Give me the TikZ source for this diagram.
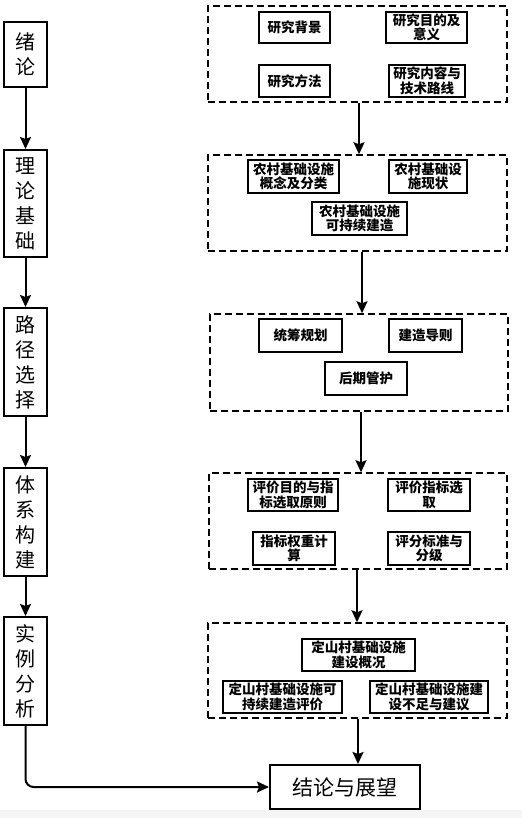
\documentclass[tikz,border=0pt]{standalone}
\usepackage{fontspec}
\newfontfamily\cjk{Noto Sans CJK SC}
\usetikzlibrary{arrows.meta,calc}
\begin{document}
\begin{tikzpicture}[x=1pt,y=-1pt,
  leftbox/.style={draw,line width=2pt,minimum width=43pt,inner sep=0pt,align=center,
    font=\cjk\fontsize{20}{25}\selectfont,text=black},
  inbox/.style={draw,line width=2pt,inner sep=0pt,align=center,
    font=\cjk\bfseries\fontsize{13.5}{14.5}\selectfont},
  grp/.style={draw,line width=1.5pt,dash pattern=on 7pt off 4pt,inner sep=0pt},
  arr/.style={line width=2pt,-{Stealth[length=12pt,width=11pt,inset=2pt]}}]
\useasboundingbox (0,0) rectangle (522,818);
\fill[gray!8] (0,810) rectangle (522,818);
% left column
\node[leftbox,minimum height=65pt] (l1) at (25.5,54.5) {绪\\论};
\node[leftbox,minimum height=107pt] (l2) at (25.5,203.5) {理\\论\\基\\础};
\node[leftbox,minimum height=108pt] (l3) at (25.5,362) {路\\径\\选\\择};
\node[leftbox,minimum height=108pt] (l4) at (25.5,522) {体\\系\\构\\建};
\node[leftbox,minimum height=108pt] (l5) at (25.5,671) {实\\例\\分\\析};
\node[draw,line width=2pt,minimum width=150pt,minimum height=44pt,inner sep=0pt,
  font=\cjk\fontsize{21}{25}\selectfont,text=black] (end) at (345,787) {结论与展望};
% groups
\node[grp,minimum width=299pt,minimum height=96pt] (g1) at (357.5,54) {};
\node[grp,minimum width=299pt,minimum height=96pt] (g2) at (357.5,203) {};
\node[grp,minimum width=298pt,minimum height=97pt] (g3) at (359,362.5) {};
\node[grp,minimum width=298pt,minimum height=96pt] (g4) at (358,521) {};
\node[grp,minimum width=299pt,minimum height=95pt] (g5) at (357.5,670.5) {};
% group 1
\node[inbox,minimum width=71pt,minimum height=31pt] (a1) at (294.5,27.5) {研究背景};
\node[inbox,minimum width=81pt,minimum height=31pt] (a2) at (426.5,27.5) {研究目的及\\意义};
\node[inbox,minimum width=71pt,minimum height=32pt] (a3) at (294.5,81) {研究方法};
\node[inbox,minimum width=76pt,minimum height=32pt] (a4) at (427,81) {研究内容与\\技术路线};
% group 2
\node[inbox,minimum width=91pt,minimum height=33pt] (b1) at (293.5,176.5) {农村基础设施\\概念及分类};
\node[inbox,minimum width=78pt,minimum height=33pt] (b2) at (428,176.5) {农村基础设\\施现状};
\node[inbox,minimum width=95pt,minimum height=33pt] (b3) at (359.5,218.5) {农村基础设施\\可持续建造};
% group 3
\node[inbox,minimum width=83pt,minimum height=33pt] (c1) at (300.5,335.5) {统筹规划};
\node[inbox,minimum width=73pt,minimum height=33pt] (c2) at (425.5,335.5) {建造导则};
\node[inbox,minimum width=82pt,minimum height=33pt] (c3) at (366,378.5) {后期管护};
% group 4
\node[inbox,minimum width=90pt,minimum height=32pt] (d1) at (293,495) {评价目的与指\\标选取原则};
\node[inbox,minimum width=82pt,minimum height=32pt] (d2) at (429,495) {评价指标选\\取};
\node[inbox,minimum width=82pt,minimum height=33pt] (d3) at (294,548.5) {指标权重计\\算};
\node[inbox,minimum width=82pt,minimum height=33pt] (d4) at (429,548.5) {评分标准与\\分级};
% group 5
\node[inbox,minimum width=113pt,minimum height=32pt] (e1) at (358.5,655) {定山村基础设施\\建设概况};
\node[inbox,minimum width=119pt,minimum height=32pt] (e2) at (282.5,697) {定山村基础设施可\\持续建造评价};
\node[inbox,minimum width=118pt,minimum height=32pt] (e3) at (429,697) {定山村基础设施建\\设不足与建议};
% left arrows
\draw[arr] (l1) -- (l2);
\draw[arr] (l2) -- (l3);
\draw[arr] (l3) -- (l4);
\draw[arr] (l4) -- (l5);
\draw[arr,rounded corners=8pt] (l5.south) |- (end.west);
% right arrows
\draw[arr] ([xshift=1.5pt]g1.south) -- ([xshift=1.5pt]g1.south |- g2.north);
\draw[arr] ([xshift=4.5pt]g2.south) -- ([xshift=4.5pt]g2.south |- g3.north);
\draw[arr] ([xshift=2pt]g3.south) -- ([xshift=2pt]g3.south |- g4.north);
\draw[arr] ([xshift=-1pt]g4.south) -- ([xshift=-1pt]g4.south |- g5.north);
\draw[arr] ([xshift=0.5pt]g5.south) -- ([xshift=0.5pt]g5.south |- end.north);
\end{tikzpicture}
\end{document}
